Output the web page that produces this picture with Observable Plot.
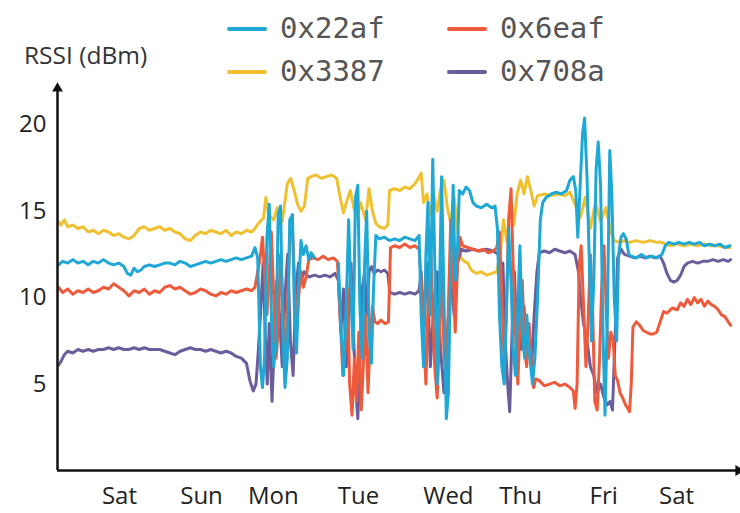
<!DOCTYPE html>
<html>
<head>
<meta charset="utf-8">
<script src="https://cdn.jsdelivr.net/npm/d3@7"></script>
<script src="https://cdn.jsdelivr.net/npm/@observablehq/plot@0.6"></script>
<style>
  html, body { margin: 0; padding: 0; background: #fff; }
  #wrap { position: relative; width: 740px; height: 513px; overflow: hidden; }
  #chart { position: absolute; left: 0; top: 0; }
  .leg { position: absolute; font-family: "DejaVu Sans Mono", monospace; font-size: 29px; color: #555; line-height: 1; }
  .sw { position: absolute; height: 4px; width: 40px; border-radius: 2px; }
  #ylab { position: absolute; left: 24px; top: 40px; font-family: "Open Sans", sans-serif; font-size: 24.5px; color: #333; line-height: 1.2; }
</style>
</head>
<body>
<div id="wrap">
  <div id="chart"></div>
  <div id="ylab">RSSI (dBm)</div>
  <div id="legend"></div>
</div>
<script>
// ---- data (x in hours since start, y in dBm) ----
const seriesNames = ["0x22af", "0x6eaf", "0x3387", "0x708a"];
const seriesColors = ["#1fa8d6", "#ee5a3c", "#efc131", "#6b5c9a"];
const drawOrder = ["0x3387", "0x708a", "0x6eaf", "0x22af"];

const dayLabels = ["Sat", "Sun", "Mon", "Tue", "Wed", "Thu", "Fri", "Sat"];
const dayTickHours = [18.2, 42.3, 63.4, 88.4, 114.8, 136.0, 160.4, 181.8];
const yTicks = [5, 10, 15, 20];

const s3387 = [[0.3,14.4],[1,14.2],[2,14.5],[3,14.1],[4.5,14.2],[6,14.0],[7.5,14.1],[9,13.8],[10.5,13.9],[12,13.7],[13.5,13.9],[15,13.8],[16.5,13.6],[18,13.7],[19.5,13.5],[21,13.4],[22.5,13.6],[24,14.0],[25.5,14.1],[27,13.9],[28.5,14.0],[30,14.1],[31.5,13.9],[33,14.0],[34.5,13.8],[36,13.7],[37.5,13.4],[39,13.3],[40.5,13.6],[42,13.8],[43.5,13.7],[45,13.9],[46.5,13.8],[48,13.7],[49.5,13.9],[51,13.6],[52.5,13.8],[54,13.7],[55.5,13.9],[57,13.8],[58,14.0],[59,14.3],[60.5,14.6],[61.2,15.8],[62,14.8],[63.5,14.5],[64.5,15.2],[66,14.4],[67.5,16.6],[68.5,16.9],[69.5,16.2],[70.5,15.4],[71.5,15.0],[72.5,15.3],[73.5,16.9],[74.5,17.0],[76,17.1],[77.5,16.9],[79,17.0],[80.5,17.1],[82,16.9],[83,15.8],[84,14.9],[85,15.6],[86,16.2],[87,15.2],[88,14.6],[89,15.5],[90.5,14.5],[91.5,16.3],[92.5,15.0],[93.5,14.3],[94.5,14.1],[96,14.0],[97,14.2],[97.5,16.2],[99,16.3],[100.5,16.2],[102,16.4],[103.5,16.3],[105,16.6],[106,16.9],[106.8,17.2],[107.5,15.5],[108.5,16.0],[109.5,14.8],[110.5,15.9],[111.5,15.0],[112.5,16.3],[113.5,16.8],[114.5,15.2],[115.5,14.3],[116.5,15.8],[117.5,14.0],[118.5,12.3],[119.5,12.1],[120.5,12.0],[121.5,11.6],[123,11.4],[124.5,11.5],[126,11.3],[127.5,11.4],[129,11.5],[130,12.5],[131,14.5],[132,13.2],[133,15.5],[134,14.2],[135,16.0],[136,16.8],[137,16.0],[138,17.0],[139,16.2],[140,15.3],[141,15.9],[143,16.0],[145,15.9],[147,16.0],[149,15.9],[150.5,16.1],[152,15.4],[153.5,14.6],[155,15.8],[156.5,14.0],[158,15.5],[159.5,14.4],[161,15.2],[162.5,13.8],[163.5,13.3],[165,13.2],[166.5,13.3],[168,13.2],[170,13.3],[172,13.2],[174,13.3],[176,13.2],[177.5,13.2],[178.5,13.1],[180,13.0],[182,13.1],[184,13.0],[186,13.1],[188,13.0],[190,13.1],[192,13.0],[194,13.0],[196,12.9],[197.5,12.9]];

const s22af = [[0.3,11.9],[1.5,12.1],[3,12.0],[4.5,12.2],[6,12.0],[7.5,12.1],[9,11.9],[10.5,12.1],[12,12.0],[13.5,12.2],[15,12.0],[16.5,11.9],[18,12.0],[19.5,11.8],[20.5,11.4],[21.5,11.3],[22.5,11.7],[23.5,11.5],[24.5,11.6],[25.5,11.8],[27,11.9],[28.5,11.8],[30,11.9],[31.5,12.0],[33,12.0],[34.5,11.9],[36,12.1],[37.5,12.0],[39,11.8],[40.5,11.9],[42,12.0],[43.5,12.1],[45,12.0],[46.5,12.1],[48,12.2],[49.5,12.1],[51,12.2],[52.5,12.3],[54,12.2],[55.5,12.3],[57,12.4],[58,12.9],[58.8,12.3],[59.6,6.0],[60.2,4.8],[60.8,6.5],[61.5,13.5],[62.2,15.4],[62.8,9.0],[63.5,6.0],[64.2,7.5],[64.8,14.8],[65.5,15.3],[66.2,8.0],[66.8,4.8],[67.5,6.5],[68.2,14.5],[69,14.8],[69.6,9.0],[70.2,6.8],[70.8,10.5],[71.5,13.3],[72.2,12.5],[73,13.0],[73.8,12.2],[74.5,12.6],[75.5,12.3],[76,null],[82.5,12.0],[83.2,8.5],[84,5.5],[84.8,9.5],[85.5,14.5],[86.2,10.0],[86.8,7.0],[87.5,15.8],[88.2,16.5],[88.8,9.5],[89.5,6.5],[90.2,12.0],[90.8,15.0],[91.5,8.0],[92.2,6.2],[92.8,10.5],[93.5,13.6],[94.5,13.4],[96,13.5],[97.5,13.3],[99,13.4],[100.5,13.3],[102,13.5],[103.5,13.4],[105,13.3],[106.2,13.6],[106.8,9.0],[107.5,6.0],[108.2,12.5],[108.8,15.5],[109.5,9.0],[110.2,18.0],[110.8,12.0],[111.5,5.0],[112.2,10.5],[112.8,17.0],[113.5,10.0],[114.2,3.0],[114.8,4.5],[115.5,12.0],[116.2,16.5],[116.8,11.0],[117.5,13.0],[118,16.2],[119,16.0],[120,16.4],[121,16.2],[122,15.5],[123,15.3],[124.5,15.2],[126,15.4],[127.5,15.2],[128.5,15.3],[129.2,14.0],[129.8,9.0],[130.5,6.0],[131.2,5.0],[131.8,9.0],[132.5,14.0],[133.2,11.0],[133.8,7.0],[134.5,5.5],[135.2,9.5],[135.8,13.0],[136.5,8.0],[137.2,6.5],[137.8,9.0],[138.5,7.0],[139.5,5.0],[140.2,6.5],[141,10.0],[141.8,14.5],[142.5,15.5],[143.5,15.8],[145,16.0],[146.5,16.1],[148,16.0],[149.5,16.2],[150.5,16.8],[151.5,17.0],[152.2,16.2],[152.8,13.5],[153.5,16.5],[154.2,19.5],[154.8,20.4],[155.5,17.0],[156.2,12.0],[156.8,7.5],[157.5,11.0],[158.2,17.5],[158.8,19.0],[159.5,16.5],[160.2,8.0],[160.8,3.2],[161.5,9.0],[162.2,18.5],[162.8,16.0],[163.5,10.0],[164.2,7.5],[164.8,12.5],[165.5,13.5],[166.2,13.7],[167,13.4],[167.8,12.5],[168.5,12.4],[170,12.3],[171.5,12.5],[173,12.3],[174.5,12.4],[176,12.3],[177.5,12.5],[178.5,13.0],[179.5,13.2],[181,13.1],[182.5,13.2],[184,13.1],[185.5,13.2],[187,13.1],[188.5,13.2],[190,13.0],[191.5,13.1],[193,13.0],[194.5,13.1],[196,12.9],[197.5,13.0]];

const s6eaf = [[0.3,10.6],[1.5,10.3],[3,10.5],[4.5,10.2],[6,10.4],[7.5,10.3],[9,10.5],[10.5,10.3],[12,10.4],[13.5,10.6],[15,10.5],[16.5,10.8],[18,10.6],[19.5,10.4],[21,10.1],[22.5,10.4],[24,10.3],[25.5,10.5],[27,10.2],[28.5,10.4],[30,10.3],[31.5,10.6],[33,10.7],[34.5,10.5],[36,10.6],[37.5,10.4],[39,10.2],[40.5,10.3],[42,10.5],[43.5,10.4],[45,10.2],[46.5,10.1],[48,10.3],[49.5,10.2],[51,10.4],[52.5,10.3],[54,10.4],[55.5,10.5],[57,10.4],[58,10.6],[58.8,11.5],[59.5,12.3],[60.2,13.5],[60.8,11.5],[61.5,9.0],[62.2,11.5],[62.8,13.8],[63.5,10.0],[64.2,6.5],[64.8,8.0],[65.5,12.5],[66.2,9.5],[66.8,6.0],[67.5,9.0],[68.2,13.5],[69,14.0],[69.6,11.0],[70.2,8.0],[70.8,10.0],[71.5,11.5],[72.2,10.6],[73,11.2],[73.8,12.2],[75,12.3],[76.5,12.2],[78,12.4],[79.5,12.2],[81,12.3],[82.2,12.1],[83,9.0],[83.8,5.5],[84.5,7.0],[85.2,10.5],[85.8,5.0],[86.5,3.2],[87.2,6.5],[87.8,4.0],[88.5,8.0],[89.2,3.5],[89.8,6.0],[90.5,9.0],[91.2,4.5],[91.8,7.5],[92.5,9.5],[93.2,8.6],[94,8.5],[95,8.7],[96.2,8.5],[97.2,8.6],[97.8,12.9],[99,13.0],[100.5,12.9],[102,13.1],[103.5,12.9],[105,13.0],[106.2,12.8],[106.8,11.0],[107.5,8.0],[108.2,5.0],[108.8,9.5],[109.5,13.5],[110.2,9.0],[110.8,6.0],[111.5,4.2],[112.2,8.0],[112.8,12.0],[113.5,7.0],[114.2,5.0],[114.8,9.5],[115.5,14.5],[116.2,11.5],[116.8,8.0],[117.5,12.0],[118.2,13.5],[119,13.0],[120.5,12.9],[122,12.8],[123.5,12.7],[125,12.8],[126.5,12.6],[128,12.7],[129,12.9],[129.8,13.8],[130.5,10.0],[131.2,6.0],[131.8,9.0],[132.5,14.5],[133.2,16.3],[133.8,12.0],[134.5,8.0],[135.2,5.0],[135.8,8.5],[136.5,11.0],[137.2,7.0],[137.8,6.0],[138.5,8.5],[139.2,6.0],[139.8,4.8],[140.5,5.3],[141.5,5.2],[143,4.9],[144.5,5.0],[146,5.1],[147.5,4.9],[149,5.0],[150.5,4.8],[151.5,4.6],[152,3.6],[152.6,5.0],[153.2,11.8],[153.8,13.0],[154.5,9.5],[155.2,6.0],[155.8,8.5],[156.5,12.5],[157.2,9.0],[157.8,4.0],[158.5,3.5],[159.2,6.5],[159.8,10.5],[160.5,13.0],[161.2,9.0],[161.8,6.5],[162.5,8.0],[163.2,7.5],[163.8,5.5],[164.5,5.2],[165.2,4.5],[166,4.2],[166.8,3.8],[167.5,3.6],[168,3.4],[168.5,5.0],[169,8.3],[170,8.6],[171,8.4],[172,8.1],[173,8.0],[174,7.9],[175,7.9],[176,8.0],[177,8.6],[178,9.2],[179,9.1],[180.5,9.4],[182,9.3],[183,9.7],[184,9.5],[185,9.9],[186,9.6],[187,10.0],[188,9.7],[189,9.9],[190,9.5],[191,9.8],[192,9.6],[193,9.5],[194,9.3],[195,9.0],[196,8.9],[197,8.6],[197.7,8.4]];

const s708a = [[0.3,6.1],[1,6.3],[2,6.7],[3,6.9],[4.5,6.8],[6,7.0],[7.5,6.9],[9,7.0],[10.5,6.9],[12,7.0],[13.5,7.0],[15,7.1],[16.5,7.0],[18,7.1],[19.5,7.0],[21,7.0],[22.5,7.1],[24,7.0],[25.5,7.1],[27,7.0],[28.5,7.0],[30,7.0],[31.5,6.9],[33,6.8],[34.5,6.7],[36,6.9],[37.5,7.0],[39,7.1],[40.5,7.0],[42,7.0],[43.5,6.9],[45,7.0],[46.5,6.9],[48,6.8],[49.5,6.9],[51,6.8],[52.5,6.6],[54,6.5],[55.5,6.2],[56.5,5.2],[57.5,4.6],[58.3,5.0],[59,7.0],[59.6,9.0],[60.4,12.0],[61,8.0],[61.6,5.0],[62.2,8.5],[63,4.0],[63.6,7.0],[64.4,11.0],[65.2,9.0],[66,6.0],[66.8,10.0],[67.6,12.5],[68.4,7.5],[69.2,5.5],[70,10.5],[70.8,12.0],[71.6,11.0],[72.4,11.5],[73.2,11.3],[74,11.2],[75.5,11.3],[77,11.2],[78.5,11.3],[80,11.2],[81.5,11.4],[82.5,11.0],[83.2,8.0],[84,10.5],[84.8,6.0],[85.5,9.0],[86.2,12.0],[86.8,8.5],[87.5,5.0],[88.2,3.0],[88.8,6.5],[89.5,10.5],[90.2,11.5],[90.8,9.0],[91.5,11.5],[92.2,11.8],[93,11.4],[94,11.6],[95,11.5],[96,11.6],[97,11.4],[97.6,10.3],[99,10.2],[100.5,10.3],[102,10.2],[103.5,10.3],[105,10.2],[106.2,10.4],[106.8,11.5],[107.5,8.5],[108.5,12.0],[109.5,6.0],[110.5,9.5],[111.5,11.5],[112.5,7.0],[113.5,4.5],[114.5,8.0],[115.5,11.0],[116.5,9.0],[117.5,12.0],[118.5,12.8],[120,12.7],[122,12.8],[124,12.7],[126,12.8],[128,12.7],[129.5,12.5],[130.2,9.0],[130.8,12.0],[131.5,7.5],[132.2,5.0],[132.8,3.4],[133.5,8.0],[134.2,11.5],[134.8,8.0],[135.5,10.5],[136.2,7.0],[137,9.5],[137.8,6.5],[138.5,8.0],[139.2,6.0],[140,9.0],[140.8,11.5],[141.5,12.6],[143,12.7],[144.5,12.6],[146,12.8],[147.5,12.7],[149,12.6],[150.5,12.7],[152,12.5],[153,11.5],[153.6,10.0],[154.5,8.5],[155.5,7.5],[156.5,6.0],[157.5,5.5],[158.5,4.5],[159.5,5.0],[160.5,4.2],[161.5,3.8],[162.3,4.0],[163,3.5],[163.8,8.0],[164.5,12.3],[165.5,12.8],[166.5,12.5],[168,12.4],[169.5,12.3],[171,12.4],[172.5,12.3],[174,12.4],[175.5,12.3],[177,12.4],[178,12.0],[179,11.4],[180,11.0],[181,10.9],[182,11.0],[183,11.3],[184,11.8],[185,12.0],[186.5,12.1],[188,12.0],[189.5,12.1],[191,12.1],[192.5,12.2],[194,12.1],[195.5,12.2],[197,12.1],[197.7,12.2]];

const seriesData = {"0x22af": s22af, "0x6eaf": s6eaf, "0x3387": s3387, "0x708a": s708a};
const rows = drawOrder.flatMap(name => seriesData[name].map(([h, v]) => ({series: name, h, v})));

const xMax = 200, yMax = 22.1;
const labelByHour = new Map(dayTickHours.map((h, i) => [h, dayLabels[i]]));

const chart = Plot.plot({
  width: 740,
  height: 513,
  marginLeft: 57,
  marginRight: 2,
  marginTop: 88,
  marginBottom: 43,
  style: {fontFamily: "Open Sans, sans-serif", fontSize: "24px", color: "#222", background: "transparent", overflow: "visible"},
  x: {domain: [0, xMax]},
  y: {domain: [0, yMax]},
  color: {domain: seriesNames, range: seriesColors},
  marks: [
    Plot.line(rows, {x: "h", y: "v", z: "series", stroke: "series", strokeWidth: 3, strokeLinejoin: "round", curve: "linear"}),
    Plot.ruleY([0], {stroke: "#111", strokeWidth: 2.5}),
    Plot.ruleX([0], {stroke: "#111", strokeWidth: 2.5}),
    Plot.dot([{x: 0, y: yMax}], {x: "x", y: "y", symbol: "triangle", r: 4, fill: "#111", stroke: null}),
    Plot.dot([{x: xMax, y: 0}], {x: "x", y: "y", symbol: "triangle", r: 4, rotate: 90, fill: "#111", stroke: null}),
    Plot.axisY(yTicks, {tickSize: 0, tickPadding: 11, fontSize: 24, label: null}),
    Plot.axisX(dayTickHours, {tickSize: 0, tickPadding: 16, fontSize: 24, label: null, tickFormat: d => labelByHour.get(d)})
  ]
});
document.getElementById("chart").appendChild(chart);

// legend (two columns, two rows)
const legendPos = [
  {name: "0x22af", left: 227, top: 29},
  {name: "0x6eaf", left: 447, top: 29},
  {name: "0x3387", left: 227, top: 72},
  {name: "0x708a", left: 447, top: 72}
];
const leg = document.getElementById("legend");
legendPos.forEach(p => {
  const c = seriesColors[seriesNames.indexOf(p.name)];
  const sw = document.createElement("div");
  sw.className = "sw";
  sw.style.left = p.left + "px";
  sw.style.top = (p.top - 2) + "px";
  sw.style.background = c;
  leg.appendChild(sw);
  const t = document.createElement("div");
  t.className = "leg";
  t.textContent = p.name;
  t.style.left = (p.left + 53) + "px";
  t.style.top = (p.top - 15) + "px";
  leg.appendChild(t);
});
</script>
</body>
</html>
